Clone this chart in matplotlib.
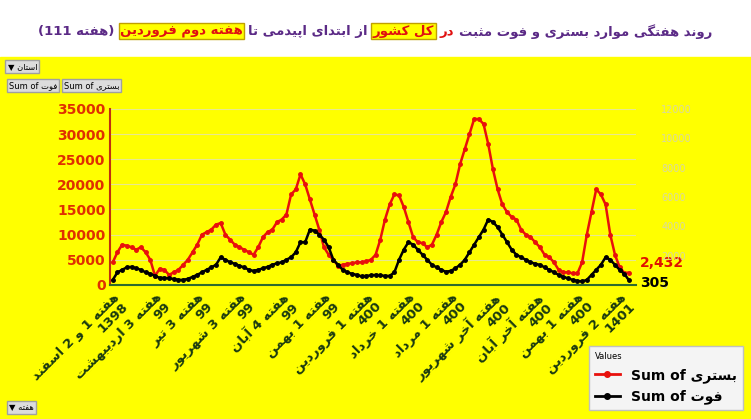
import unicodedata
import matplotlib
matplotlib.use("Agg")
import matplotlib.pyplot as plt
from matplotlib.lines import Line2D

plt.rcParams['font.family'] = ['DejaVu Sans']

# weekly data, week 1 = first week of Esfand 1398, 111 weeks
bastari = [4500, 6500, 8000, 7800, 7500, 7000, 7500, 6500, 5000, 1800,
           3200, 3000, 2000, 2500, 3000, 4000, 5000, 6500, 8000, 10000,
           10500, 11000, 12000, 12300, 10000, 9000, 8000, 7500, 7000, 6500,
           6000, 7500, 9500, 10500, 11000, 12500, 13000, 14000, 18000, 19000,
           22000, 20000, 17000, 14000, 11000, 7500, 6000, 5000,
           3800, 4000, 4200, 4300, 4500, 4500, 4700, 5000, 6000, 9000,
           13000, 16000, 18000, 17800, 15500, 12500, 9500, 8500, 8300, 7500,
           8000, 10000, 12500, 14500, 17500, 20000, 24000, 27000, 30000, 33000,
           33000, 32000, 28000, 23000, 19000, 16000, 14500, 13500, 13000, 11000,
           10000, 9500, 8500, 7500, 6000, 5500, 4500, 3000, 2500, 2500,
           2300, 2300, 4500, 10000, 14500, 19000, 18000, 16000, 10000, 6000,
           3500, 2400, 2432]
fot = [343, 858, 1029, 1200, 1235, 1132, 1029, 858, 755, 617,
       480, 480, 446, 412, 343, 343, 412, 549, 686, 858,
       1029, 1200, 1372, 1887, 1715, 1544, 1441, 1303, 1200, 1029,
       960, 1029, 1132, 1235, 1372, 1475, 1544, 1715, 1887, 2230,
       2916, 2916, 3773, 3704, 3430, 3087, 2573,
       1715, 1372, 1029, 858, 755, 686, 583, 617, 652, 686,
       652, 617, 617, 858, 1715, 2401, 2916, 2744, 2401, 2058,
       1715, 1372, 1200, 1029, 892, 960, 1132, 1372, 1715, 2230,
       2744, 3259, 3773, 4459, 4288, 3945, 3430, 2916, 2401, 2058,
       1887, 1715, 1544, 1441, 1372, 1200, 1029, 858, 686, 549,
       446, 343, 274, 240, 343, 686, 1029, 1372, 1887, 1715,
       1372, 1029, 755, 305]
week_labels = ["هفته 1 و 2 اسفند 1398", "هفته 3 اردیبهشت 99", "هفته 3 تیر 99",
               "هفته 3 شهریور 99", "هفته 4 آبان 99", "هفته 1 بهمن 99",
               "هفته 1 فروردین 400", "هفته 1 خرداد 400", "هفته 1 مرداد 400",
               "هفته آخر شهریور 400", "هفته آخر آبان 400", "هفته 1 بهمن 400",
               "هفته 2 فروردین 1401"]
label_step = 9


def is_letter(c):
    return unicodedata.name(c, "").startswith("ARABIC LETTER")


def form(c, f):
    try:
        return unicodedata.lookup(unicodedata.name(c) + " " + f + " FORM")
    except KeyError:
        return None


def dual(c):
    return is_letter(c) and form(c, "INITIAL") is not None


def shape(s):
    out = []
    for i, c in enumerate(s):
        if not is_letter(c):
            out.append(c)
            continue
        prev = i > 0 and dual(s[i - 1])
        nxt = dual(c) and i + 1 < len(s) and is_letter(s[i + 1])
        f = "MEDIAL" if prev and nxt else "FINAL" if prev else "INITIAL" if nxt else "ISOLATED"
        out.append(form(c, f) or c)
    return "".join(out)


def vis(s):
    # right-to-left line: shape letters, reverse, keep digit runs in order
    r = shape(s)[::-1]
    res, run = "", ""
    for c in r:
        if c.isdigit() or c == ",":
            run += c
        else:
            res += run[::-1]
            run = ""
            res += {"(": ")", ")": "("}.get(c, c)
    return res + run[::-1]


fig = plt.figure(figsize=(7.51, 4.19), dpi=100)
fig.patch.set_facecolor("white")
fig.patches.append(plt.Rectangle((0, 0), 1, 0.865, transform=fig.transFigure,
                                 color="#ffff00", zorder=-10))

ax = fig.add_axes([0.147, 0.32, 0.7, 0.42])
ax.set_facecolor("#ffff00")
x = list(range(len(bastari)))
ax.plot(x, bastari, color="#e8100c", lw=1.8, marker="o", ms=2.5)
ax.set_ylim(0, 35000)
ax.set_xlim(-0.5, len(x) + 0.5)
ax.set_yticks(range(0, 35001, 5000))
ax.tick_params(axis="y", colors="#e03000", labelsize=10, length=0)
for t in ax.get_yticklabels():
    t.set_fontweight("bold")
ax.yaxis.grid(True, color="#e8e890", lw=0.8)
ax.set_axisbelow(True)
for s in ["top", "right"]:
    ax.spines[s].set_visible(False)
ax.spines["left"].set_color("#c03010")
ax.spines["left"].set_linewidth(1.5)
ax.spines["bottom"].set_color("#2e6b2e")
ax.spines["bottom"].set_linewidth(1.5)

ticks = list(range(0, len(x), label_step))[:len(week_labels)]
ax.set_xticks(ticks)
labs = []
for w in week_labels:
    head, year = w.rsplit(" ", 1)
    labs.append(vis(head) + "\n" + year)
ax.set_xticklabels(labs, rotation=45, ha="right", rotation_mode="anchor",
                   fontsize=9.5, fontweight="bold", color="#1a3a10", linespacing=1.0)
ax.tick_params(axis="x", length=0, pad=4)

ax2 = ax.twinx()
ax2.plot(x, fot, color="black", lw=1.8, marker="o", ms=2.5)
ax2.set_ylim(0, 12000)
ax2.set_yticks(range(0, 12001, 2000))
ax2.tick_params(axis="y", colors="#d8d8a0", labelsize=7, length=0, pad=18)
for s in ["top", "right", "left", "bottom"]:
    ax2.spines[s].set_visible(False)

ax.annotate(f"{bastari[-1]:,}", (x[-1], bastari[-1]), xytext=(8, 2),
            textcoords="offset points", color="#e01000", fontsize=10,
            fontweight="bold", va="bottom")
ax2.annotate(f"{fot[-1]:,}", (x[-1], fot[-1]), xytext=(8, -2),
             textcoords="offset points", color="black", fontsize=10,
             fontweight="bold", va="center")

# title with highlighted parts, laid out right to left and centred
segments = [("روند هفتگی موارد بستری و فوت مثبت", "#5b2a86", None),
            ("در", "#e01010", None),
            ("کل کشور", "#e01010", "#ffff00"),
            ("از ابتدای اپیدمی تا", "#5b2a86", None),
            ("هفته دوم فروردین", "#e01010", "#ffff00"),
            ("(هفته 111)", "#5b2a86", None)]
renderer = fig.canvas.get_renderer()
gap = 0.007
texts = []
for txt, col, bg in segments:
    t = fig.text(0, 0.925, vis(txt), ha="right", va="center", fontsize=9.5,
                 fontweight="bold", color=col)
    if bg:
        t.set_bbox(dict(facecolor=bg, edgecolor="#c0a000", pad=1))
    texts.append((t, t.get_window_extent(renderer).width / fig.bbox.width))
total = sum(w for _, w in texts) + gap * (len(texts) - 1)
xr = 0.5 + total / 2
for t, w in texts:
    t.set_x(xr)
    xr -= w + gap

btn = dict(facecolor="#dcdcdc", edgecolor="#a0a0a0", pad=1.5)
fig.text(0.01, 0.835, "▼ " + vis("استان"), fontsize=6, bbox=btn)
fig.text(0.012, 0.79, "Sum of " + vis("فوت"), fontsize=6, bbox=btn)
fig.text(0.085, 0.79, "Sum of " + vis("بستری"), fontsize=6, bbox=btn)
fig.text(0.012, 0.022, "▼ " + vis("هفته"), fontsize=6, bbox=btn)

handles = [Line2D([], [], color="#e8100c", lw=2, marker="o", ms=4),
           Line2D([], [], color="black", lw=2, marker="o", ms=4)]
leg = fig.legend(handles, ["Sum of " + vis("بستری"), "Sum of " + vis("فوت")],
                 loc="lower right", bbox_to_anchor=(0.998, 0.005), title="Values",
                 prop={"weight": "bold", "size": 10}, title_fontsize=6,
                 fancybox=False, handlelength=1.8, alignment="left", framealpha=1)
leg.get_frame().set_facecolor("#f4f4f4")
leg.get_frame().set_edgecolor("#c0c0c0")

fig.savefig("out.png", dpi=100)
